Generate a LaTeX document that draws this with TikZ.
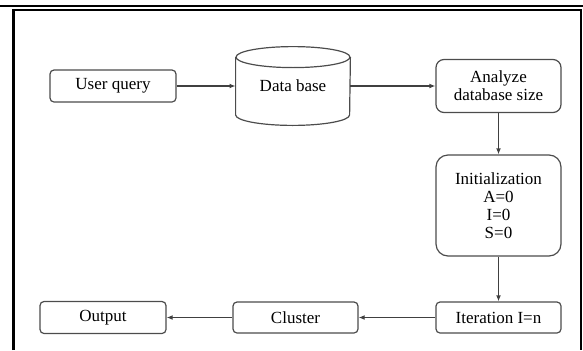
\documentclass[tikz,border=0pt]{standalone}
\usepackage{fontspec}
\setmainfont{Liberation Serif}
\usetikzlibrary{arrows.meta,positioning}
\tikzset{>={Latex[length=3pt,width=2.4pt]}}
\tikzset{box/.style={draw=black!70, line width=0.6pt, rounded corners=2pt, align=center, inner sep=0pt, font=\fontsize{8.5}{9}\selectfont}}

\begin{document}
\begin{tikzpicture}[x=0.5pt,y=0.5pt]
    \useasboundingbox (0,0) rectangle (583,350);
    \draw [line width=1pt] (0,344) -- (583,344);
    \draw [line width=1pt] (13.5,340.5) -- (581,340.5) -- (581,0);
    \draw [line width=1.5pt] (13.5,0) -- (13.5,341);
    \node [box, minimum width=63pt, minimum height=16pt] (query) at (113,264) {User query};
    \node [align=center, inner sep=0pt, minimum width=57pt, minimum height=28.5pt, font=\fontsize{8.5}{9}\selectfont] (db) at (293,264) {Data base};
    \draw [draw=black!70, line width=0.6pt] (db.north) ellipse [x radius=28.5pt, y radius=5.25pt];
    \draw [draw=black!70, line width=0.6pt] (db.north west) -- (db.south west) arc [start angle=180, end angle=360, x radius=28.5pt, y radius=5.25pt] -- (db.north east);
    \node [box, rounded corners=4pt, minimum width=62.5pt, minimum height=26.5pt] (size) at (498.5,264) {Analyze\\database size};
    \node [box, rounded corners=6pt, minimum width=62.5pt, minimum height=50.5pt] (init) at (498.5,144.5) {Initialization\\A=0\\I=0\\S=0};
    \node [box, minimum width=62.5pt, minimum height=15.5pt] (iter) at (498.5,32.5) {Iteration I=n};
    \node [box, minimum width=62.5pt, minimum height=15.5pt] (cluster) at (295.5,32.5) {Cluster};
    \node [box, minimum width=63pt, minimum height=16pt] (output) at (103,32.5) {Output};
    \draw [->, draw=black!75, line width=0.6pt] (query) -- (db);
    \draw [->, draw=black!75, line width=0.6pt] (db) -- (size);
    \draw [->, draw=black!75, line width=0.6pt] (size) -- (init);
    \draw [->, draw=black!75, line width=0.6pt] (init) -- (iter);
    \draw [->, draw=black!75, line width=0.6pt] (iter) -- (cluster);
    \draw [->, draw=black!75, line width=0.6pt] (cluster) -- (output);
\end{tikzpicture}
\end{document}
